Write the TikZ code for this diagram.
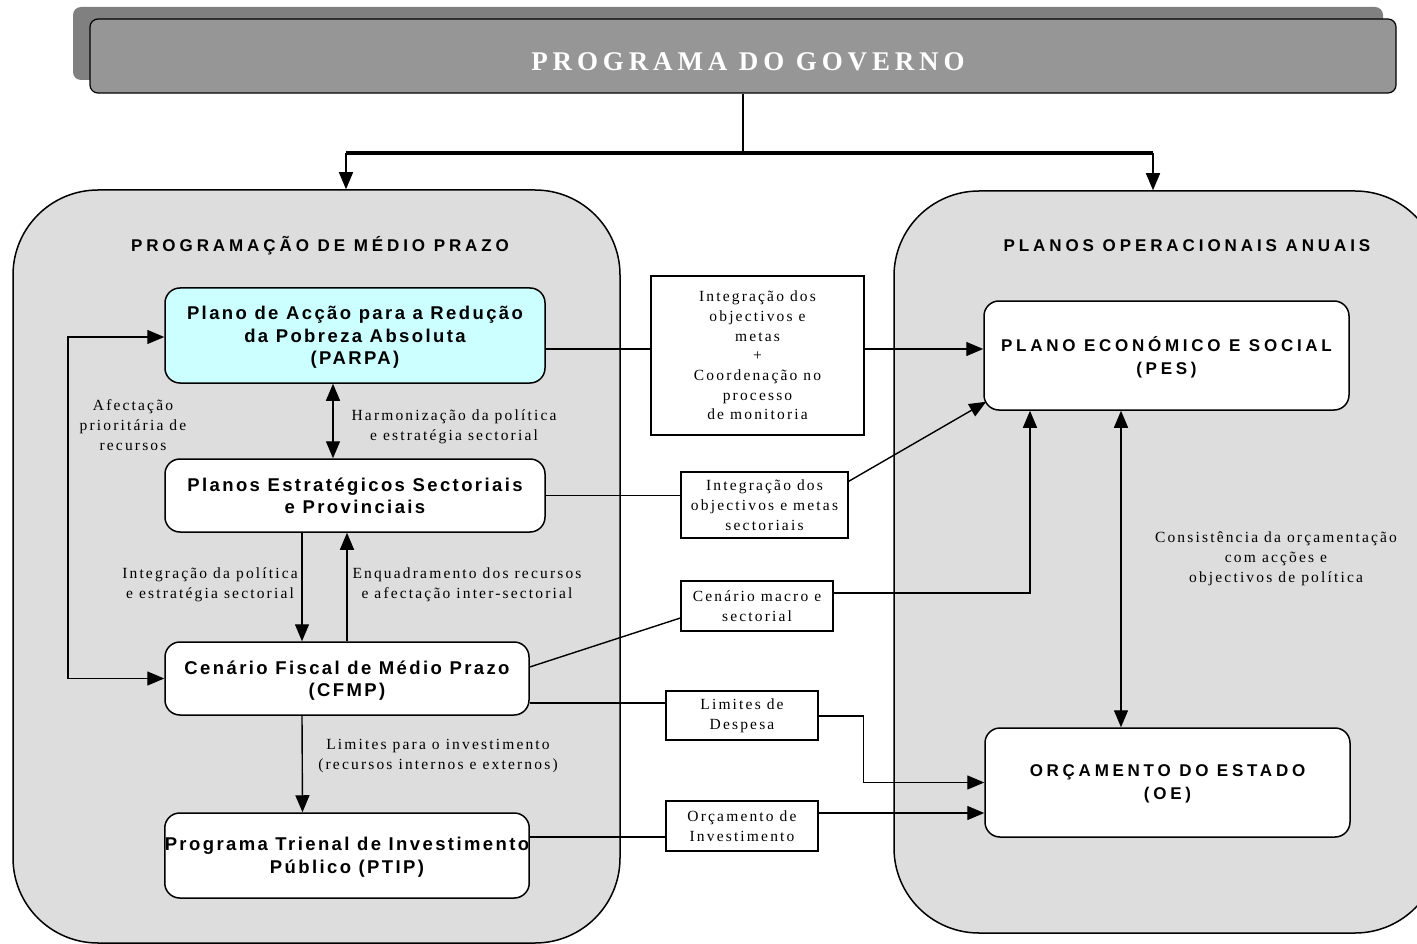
\documentclass[tikz,border=0pt]{standalone}
\usepackage{fontspec}
\setmainfont{Liberation Serif}
\newfontfamily\boxfont[LetterSpace=13]{Liberation Sans}
\newfontfamily\capsfont[LetterSpace=22]{Liberation Sans}
\newfontfamily\ttlfont[LetterSpace=23]{Liberation Sans}
\newfontfamily\lblfont[LetterSpace=14]{Liberation Serif}
\newfontfamily\banfont[LetterSpace=18]{Liberation Serif}
\usetikzlibrary{arrows.meta,calc}
\definecolor{panelgray}{HTML}{DDDDDD}
\definecolor{bannerfront}{HTML}{969696}
\definecolor{bannershadow}{HTML}{808080}
\definecolor{parpacyan}{HTML}{CCFFFF}
\begin{document}
\begin{tikzpicture}[x=1pt,y=-1pt,
  panel/.style={draw, line width=1.5pt, fill=panelgray, rounded corners=85pt, inner sep=0pt},
  bigbox/.style={draw, line width=1.5pt, fill=white, rounded corners=15pt, inner sep=0pt, align=center,
    text depth=-2pt, font=\boxfont\bfseries\fontsize{18.5}{22.5}\selectfont},
  capsbox/.style={bigbox, font=\capsfont\bfseries\fontsize{17}{23}\selectfont},
  ttl/.style={inner sep=0pt, font=\ttlfont\bfseries\fontsize{17}{20}\selectfont},
  lbl/.style={align=center, inner sep=0pt, font=\lblfont\fontsize{15.5}{20}\selectfont},
  lblbox/.style={draw, line width=1.3pt, fill=white, align=center, inner sep=0pt,
    font=\lblfont\fontsize{15.5}{19.7}\selectfont},
  conn/.style={line width=1.4pt},
  arr/.style={conn, -{Triangle[length=17pt,width=14pt]}},
  darr/.style={conn, {Triangle[length=17pt,width=14pt]}-{Triangle[length=17pt,width=14pt]}},
  banner/.style={draw, line width=1.2pt, fill=bannerfront, rounded corners=8pt, inner sep=0pt},
  bannertext/.style={inner sep=0pt, text=white, font=\banfont\bfseries\fontsize{27}{30}\selectfont}
]
\useasboundingbox (0,0) rectangle (1417,944);

% banner
\fill[bannershadow, rounded corners=8pt] (73,7) rectangle (1383,80);
\node[banner, minimum width=1306pt, minimum height=74pt] (gov) at (743,56) {};
\node[bannertext] (govtxt) at (748,62) {PROGRAMA DO GOVERNO};

% panels
\node[panel, minimum width=607pt, minimum height=753pt] (lp) at (316.5,566.5) {};
\node[panel, minimum width=546pt, minimum height=742pt] (rp) at (1167,562) {};
\node[ttl] (lptitle) at (320,246) {PROGRAMAÇÃO DE MÉDIO PRAZO};
\node[ttl] (rptitle) at (1187,246) {PLANOS OPERACIONAIS ANUAIS};

% top connector
\coordinate (j) at (743,153);
\coordinate (jl) at (346,153);
\coordinate (jr) at (1153,153);
\draw[line width=2pt] (gov.south) -- (j);
\draw[line width=3.2pt] (jl) -- (jr);
\draw[arr] (jl) -- (jl |- lp.north);
\draw[arr] (jr) -- (jr |- rp.north);

% left boxes
\node[bigbox, fill=parpacyan, minimum width=380pt, minimum height=95pt] (parpa) at (355,335.5)
  {Plano de Acção para a Redução\\da Pobreza Absoluta\\(PARPA)};
\node[bigbox, minimum width=380pt, minimum height=73pt] (pest) at (355,495.5)
  {Planos Estratégicos Sectoriais\\e Provinciais};
\node[bigbox, minimum width=364pt, minimum height=73pt] (cfmp) at (347,678.5)
  {Cenário Fiscal de Médio Prazo\\(CFMP)};
\node[bigbox, minimum width=364pt, minimum height=85pt] (ptip) at (347,855.5)
  {Programa Trienal de Investimento\\Público (PTIP)};

% right boxes
\node[capsbox, minimum width=365pt, minimum height=109pt] (pes) at (1166.5,355.5)
  {PLANO ECONÓMICO E SOCIAL\\(PES)};
\node[capsbox, minimum width=365pt, minimum height=109pt] (oe) at (1167.5,782.5)
  {ORÇAMENTO DO ESTADO\\(OE)};

% middle label boxes
\node[lblbox, minimum width=213pt, minimum height=159pt] (b1) at (757.5,355.5)
  {Integração dos\\objectivos e\\metas\\+\\Coordenação no\\processo\\de monitoria};
\node[lblbox, minimum width=167pt, minimum height=66pt] (b2) at (764.5,505)
  {Integração dos\\objectivos e metas\\sectoriais};
\node[lblbox, minimum width=152pt, minimum height=50pt] (b3) at (757,606)
  {Cenário macro e\\sectorial};
\node[lblbox, minimum width=152pt, minimum height=49pt] (b4) at (742,715.5)
  {Limites de\\Despesa};
\node[lblbox, minimum width=152pt, minimum height=50pt] (b5) at (742,826)
  {Orçamento de\\Investimento};

% free labels
\node[lbl] (afect) at (133,425) {Afectação\\prioritária de\\recursos};
\node[lbl] (harm) at (454,427) {Harmonização da política\\e estratégia sectorial};
\node[lbl] (intpol) at (210,585) {Integração da política\\e estratégia sectorial};
\node[lbl] (enq) at (467,585) {Enquadramento dos recursos\\e afectação inter-sectorial};
\node[lbl] (limi) at (438,756) {Limites para o investimento\\(recursos internos e externos)};
\node[lbl] (cons) at (1276,559) {Consistência da orçamentação\\com acções e\\objectivos de política};

% left connectors
\coordinate (lx) at (68,0);
\draw[darr] ([yshift=-1.5pt]parpa.west) -- ([yshift=-1.5pt]parpa.west -| lx) -- (cfmp.west -| lx) -- (cfmp.west);
\draw[darr] ([xshift=-22pt]parpa.south) -- ([xshift=-22pt]pest.north);
\draw[arr] ([xshift=-53pt]pest.south) -- ([xshift=-45pt]cfmp.north);
\draw[arr] (cfmp.north) -- ([xshift=-8pt]pest.south);
\draw[arr] ([xshift=-45pt]cfmp.south) -- ([xshift=-44.5pt]ptip.north);

% middle connectors
\draw[conn] ([yshift=-13.5pt]parpa.east) -- ([yshift=6.5pt]b1.west);
\draw[arr] ([yshift=6.5pt]b1.east) -- ([yshift=6.5pt]pes.west);
\draw[conn] (pest.east) -- (pest.east -| b2.west);
\draw[arr] ([yshift=-10pt]b2.north east) -- ([shift={(3pt,9pt)}]pes.south west);
\draw[conn] ([yshift=11.5pt]cfmp.east) -- ([yshift=-12pt]b3.west);
\draw[arr] ([yshift=13pt]b3.east) -| ([xshift=-136.5pt]pes.south);
\draw[conn] ([yshift=-24.5pt]cfmp.east) -- ([yshift=12.5pt]b4.west);
\draw[arr] ([yshift=-0.5pt]b4.east) -- ++(45,0) |- (oe.west);
\draw[conn] ([yshift=18.5pt]ptip.east) -- ([yshift=-11pt]b5.west);
\coordinate (b5o) at ([yshift=13pt]b5.east);
\draw[arr] (b5o) -- (b5o -| oe.west);
\draw[darr] ([xshift=-45.5pt]pes.south) -- ([xshift=-46.5pt]oe.north);
\end{tikzpicture}
\end{document}
